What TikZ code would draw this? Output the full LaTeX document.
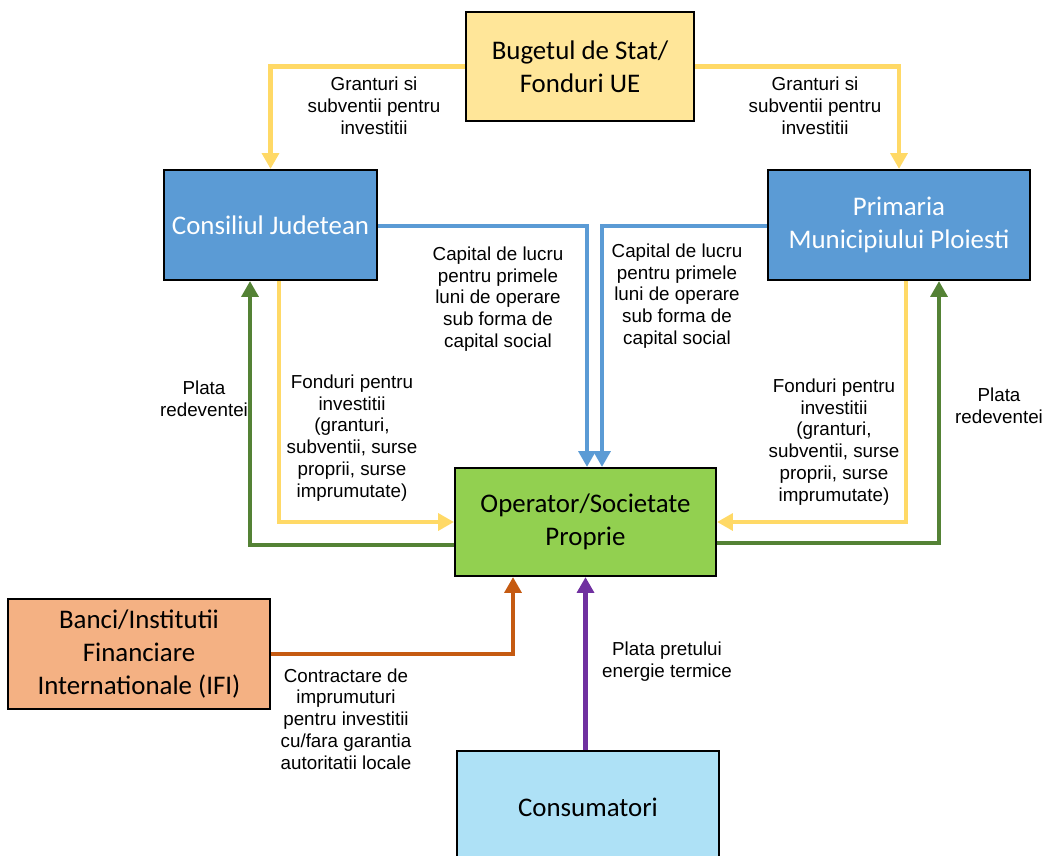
\documentclass[tikz,border=0pt]{standalone}
\usepackage{fontspec}
\setmainfont{Liberation Sans}
\newfontfamily\boxfam{Carlito}
\usetikzlibrary{arrows.meta,calc}
\definecolor{cYel}{HTML}{FFD966}
\definecolor{cBlue}{HTML}{5B9BD5}
\definecolor{cGreen}{HTML}{548235}
\definecolor{cOrange}{HTML}{C55A11}
\definecolor{cPurple}{HTML}{7030A0}
\definecolor{fBug}{HTML}{FFE699}
\definecolor{fBlue}{HTML}{5B9BD5}
\definecolor{fOp}{HTML}{92D050}
\definecolor{fBank}{HTML}{F4B183}
\definecolor{fCons}{HTML}{AEE1F6}
\tikzset{
  box/.style={draw=black, line width=1.2pt, align=center, inner sep=0pt,
    font=\boxfam\fontsize{15.3pt}{18.7pt}\selectfont},
  lbl/.style={align=center, inner sep=0pt, font=\fontsize{10.7pt}{12.4pt}\selectfont},
  flow/.style={line width=2.3pt, -{Triangle[width=9.5pt,length=9pt]}},
}
\begin{document}
\begin{tikzpicture}[x=0.02cm,y=-0.02cm]
\useasboundingbox (0,0) rectangle (1043,855);
\clip (0,0) rectangle (1043,855);
% boxes
\node[box, fill=fBug, minimum width=4.56cm, minimum height=2.18cm] (bug) at (580,66.5) {Bugetul de Stat/\\Fonduri UE};
\node[box, fill=fBlue, text=white, minimum width=4.26cm, minimum height=2.2cm] (cj) at (270.5,225) {Consiliul Judetean};
\node[box, fill=fBlue, text=white, minimum width=5.24cm, minimum height=2.2cm] (pm) at (899,225) {Primaria\\Municipiului Ploiesti};
\node[box, fill=fOp, minimum width=5.22cm, minimum height=2.16cm] (op) at (585.5,522) {Operator/Societate\\Proprie};
\node[box, fill=fBank, minimum width=5.24cm, minimum height=2.2cm] (bn) at (139,654) {Banci/Institutii\\Financiare\\Internationale (IFI)};
\node[box, fill=fCons, minimum width=5.24cm, minimum height=2.24cm] (cs) at (588,807) {Consumatori};
% connectors
\draw[flow, cYel] (bug.west) -| (cj.north);
\draw[flow, cYel] (bug.east) -| (pm.north);
\draw[flow, cBlue] ([yshift=-0.02cm]cj.east) -| ([xshift=0.03cm]op.north);
\draw[flow, cBlue] ([yshift=-0.02cm]pm.west) -| ([xshift=0.33cm]op.north);
\draw[flow, cYel] ([xshift=0.17cm]cj.south) |- (op.west);
\draw[flow, cGreen] ([yshift=-0.46cm]op.west) -| ([xshift=-0.41cm]cj.south);
\draw[flow, cYel] ([xshift=0.14cm]pm.south) |- (op.east);
\draw[flow, cGreen] ([yshift=-0.42cm]op.east) -| ([xshift=0.8cm]pm.south);
\draw[flow, cOrange] (bn.east) -| ([xshift=-1.45cm]op.south);
\draw[flow, cPurple] (op.south |- cs.north) -- (op.south);
% labels
\node[lbl] (l1) at (374,106) {Granturi si\\subventii pentru\\investitii};
\node[lbl] (l2) at (815,106) {Granturi si\\subventii pentru\\investitii};
\node[lbl] (l3) at (498,299) {Capital de lucru\\pentru primele\\luni de operare\\sub forma de\\capital social};
\node[lbl] (l4) at (677,296) {Capital de lucru\\pentru primele\\luni de operare\\sub forma de\\capital social};
\node[lbl] (l5) at (204,399) {Plata\\redeventei};
\node[lbl] (l6) at (999,406) {Plata\\redeventei};
\node[lbl] (l7) at (352,438) {Fonduri pentru\\investitii\\(granturi,\\subventii, surse\\proprii, surse\\imprumutate)};
\node[lbl] (l8) at (834,442) {Fonduri pentru\\investitii\\(granturi,\\subventii, surse\\proprii, surse\\imprumutate)};
\node[lbl] (l9) at (346,719) {Contractare de\\imprumuturi\\pentru investitii\\cu/fara garantia\\autoritatii locale};
\node[lbl] (l10) at (667,662) {Plata pretului\\energie termice};
\end{tikzpicture}
\end{document}
